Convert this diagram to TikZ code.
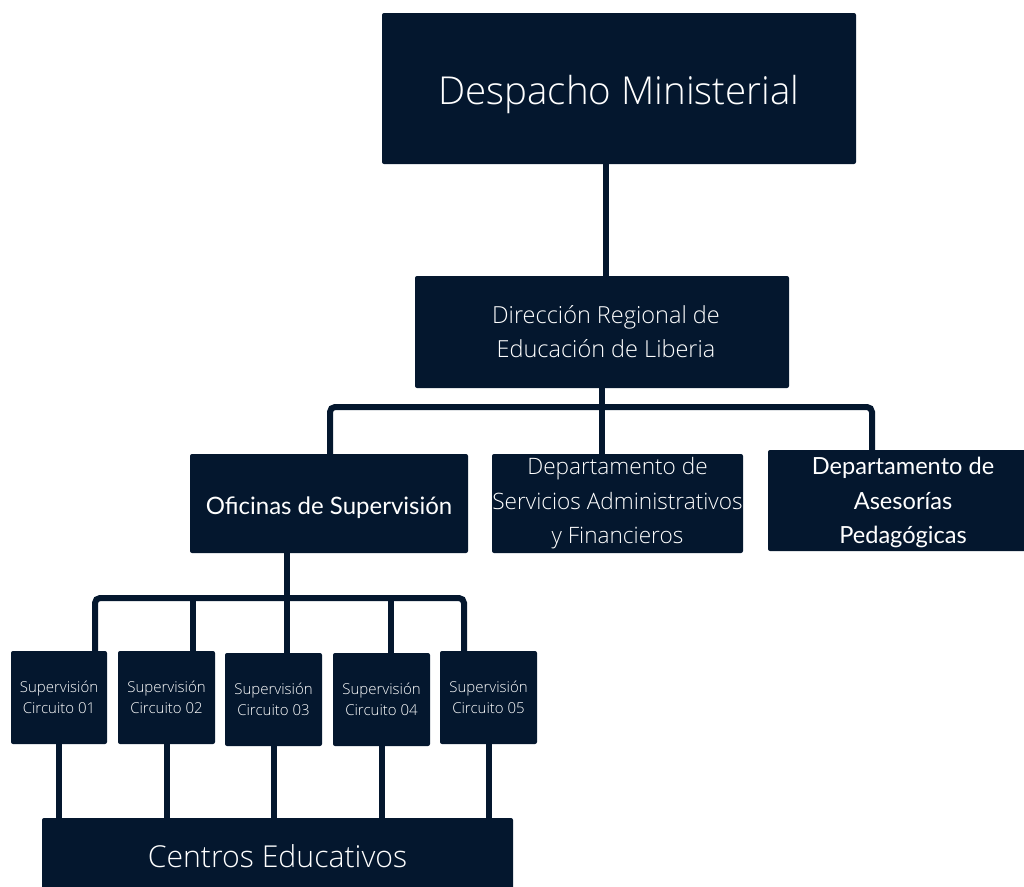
\documentclass[tikz,border=0pt]{standalone}
\usepackage{fontspec}
\setmainfont{Open Sans}
\IfFontExistsTF{Open Sans Light}{\newfontfamily\lightfont{Open Sans Light}}{\newfontfamily\lightfont{Open Sans}}
\newfontfamily\geofont{Lato}
\definecolor{navy}{HTML}{04172E}
\begin{document}
\begin{tikzpicture}[x=1pt,y=-1pt,
  box/.style={fill=navy, draw=none, rounded corners=2pt, text=white, align=center, inner sep=0pt},
  conn/.style={draw=navy, line width=6pt, rounded corners=5pt},
  big/.style={font=\lightfont\fontsize{38.5}{42}\selectfont},
  mid/.style={font=\lightfont\fontsize{23.5}{34}\selectfont},
  midb/.style={font=\lightfont\fontsize{22.6}{34.5}\selectfont},
  geo/.style={font=\geofont\fontsize{24}{34.5}\selectfont},
  geob/.style={font=\geofont\fontsize{23.6}{34.5}\selectfont},
  small/.style={font=\lightfont\fontsize{15}{20.5}\selectfont},
  cen/.style={font=\lightfont\fontsize{30.2}{34}\selectfont},
  inlabel/.style={text=white, align=center, inner sep=0pt}]
\useasboundingbox (0,0) rectangle (1024,886);

% nodes
\node[box, minimum width=474pt, minimum height=151pt,
  label={[inlabel, big, yshift=-6pt]center:Despacho Ministerial}] (desp) at (619,88.5) {};
\node[box, mid, minimum width=374pt, minimum height=112pt] (dir) at (602,332) {\hspace*{8pt}Dirección Regional de\\\hspace*{8pt}Educación de Liberia};
\node[box, minimum width=278pt, minimum height=99pt,
  label={[inlabel, geo, yshift=-4pt]center:Oficinas de Supervisión}] (ofi) at (329,503.5) {};
\node[box, midb, minimum width=251pt, minimum height=99pt] (serv) at (617.5,503.5) {Departamento de\\Servicios Administrativos\\y Financieros};
\node[box, minimum width=264pt, minimum height=101pt,
  label={[inlabel, geob, xshift=3pt, yshift=-2pt]center:Departamento de\\Asesorías\\Pedagógicas}] (ases) at (900,500.5) {};

\node[box, small, minimum width=96pt, minimum height=93pt] (sup1) at (59,697.5) {Supervisión\\Circuito 01};
\node[box, small, minimum width=97pt, minimum height=93pt] (sup2) at (166.5,697.5) {Supervisión\\Circuito 02};
\node[box, small, minimum width=97pt, minimum height=93pt] (sup3) at (273.5,699.5) {Supervisión\\Circuito 03};
\node[box, small, minimum width=97pt, minimum height=93pt] (sup4) at (381.5,699.5) {Supervisión\\Circuito 04};
\node[box, small, minimum width=97pt, minimum height=93pt] (sup5) at (488.5,697.5) {Supervisión\\Circuito 05};

\node[box, cen, minimum width=471pt, minimum height=76pt] (cent) at (277.5,856) {Centros Educativos};

% connectors
\draw[conn] ([xshift=4pt]dir.north) -- ([xshift=4pt]dir.north |- desp.south);

\coordinate (b1l) at (330,407);
\coordinate (b1r) at (872,407);
\draw[conn] (dir.south) -- (dir.south |- serv.north);
\draw[conn] (b1l |- ofi.north) -- (b1l) -- (b1r) -- (b1r |- ases.north);

\coordinate (t1) at (95,598);
\coordinate (t2) at (193,598);
\coordinate (t3) at (287,598);
\coordinate (t4) at (391,598);
\coordinate (t5) at (464,598);
\draw[conn] (t3 |- ofi.south) -- (t3 |- sup3.north);
\draw[conn] (t1 |- sup1.north) -- (t1) -- (t5) -- (t5 |- sup5.north);
\draw[conn] (t2) -- (t2 |- sup2.north);
\draw[conn] (t4) -- (t4 |- sup4.north);

\draw[conn] (sup1.south) -- (sup1.south |- cent.north);
\draw[conn] (sup2.south) -- (sup2.south |- cent.north);
\draw[conn] (sup3.south) -- (sup3.south |- cent.north);
\draw[conn] (sup4.south) -- (sup4.south |- cent.north);
\draw[conn] (sup5.south) -- (sup5.south |- cent.north);
\end{tikzpicture}
\end{document}
